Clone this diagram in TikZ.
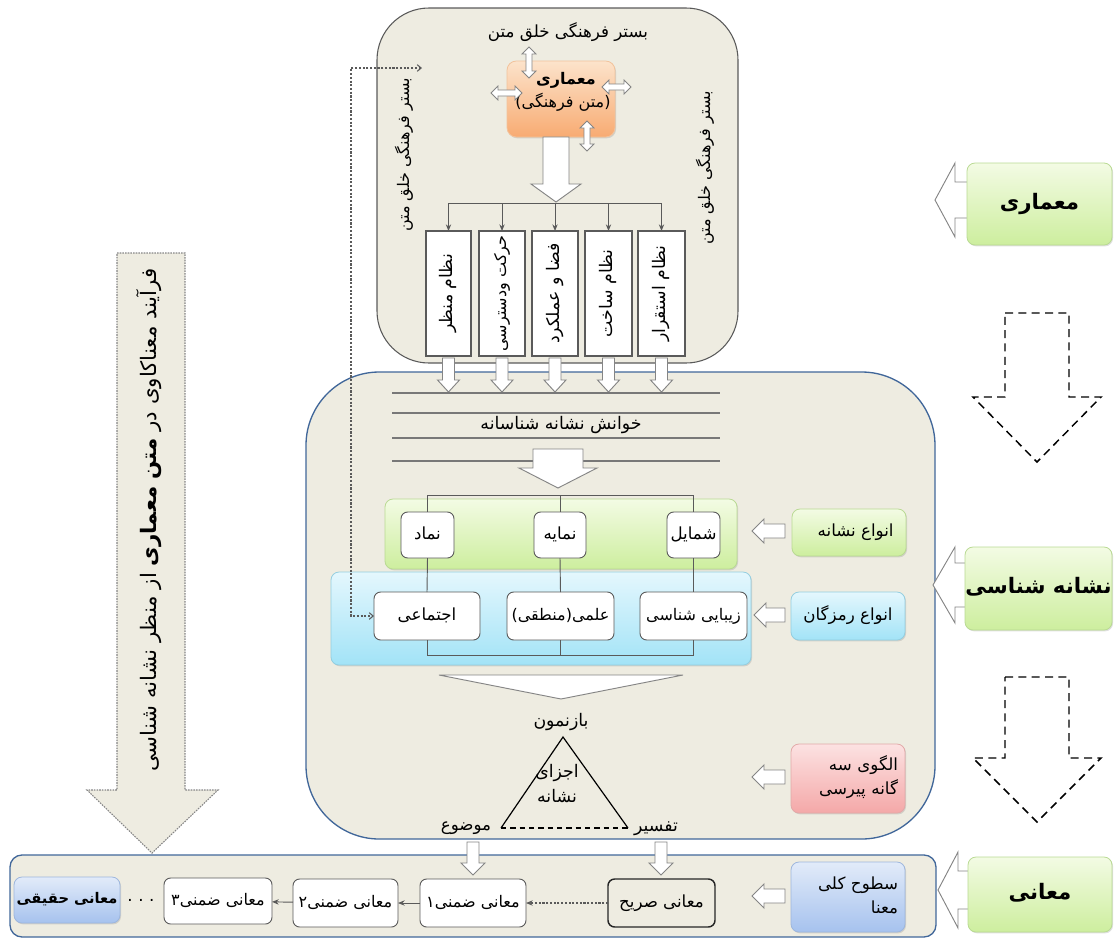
\documentclass[tikz,border=0pt]{standalone}
\usepackage{fontspec}
\newfontfamily\fa[Script=Arabic]{DejaVu Sans}
\newfontfamily\dvs{DejaVu Sans}
\TeXXeTstate=1
\usetikzlibrary{shadows,arrows.meta}
\newcommand\R[1]{\rule[-0.25em]{0pt}{1em}\smash{\beginR#1\endR}}
\newcommand\lp{{\dvs(}}
\newcommand\rp{{\dvs)}}
\newcommand\fsz[1]{\fontsize{#1}{\fpeval{#1*1.45}}\selectfont}
\definecolor{beige}{HTML}{EEECE1}
\definecolor{boxgray}{HTML}{5A5A5A}
\definecolor{bandblue}{HTML}{41679A}
\definecolor{arrgray}{HTML}{858585}
\definecolor{gtop}{HTML}{F3FBE4}
\definecolor{gbot}{HTML}{CDEE9E}
\definecolor{gdraw}{HTML}{B9DA93}
\definecolor{ctop}{HTML}{E4F7FD}
\definecolor{cbot}{HTML}{A2E3F7}
\definecolor{cdraw}{HTML}{93CEE0}
\definecolor{ptop}{HTML}{FCE2E2}
\definecolor{pbot}{HTML}{F4A8A8}
\definecolor{pdraw}{HTML}{E2A9A8}
\definecolor{btop}{HTML}{E2EBF9}
\definecolor{bbot}{HTML}{A6C2EE}
\definecolor{bdraw}{HTML}{9DB6DD}
\definecolor{otop}{HTML}{FCE3CB}
\definecolor{obot}{HTML}{F8AB72}
\definecolor{odraw}{HTML}{F2C39C}
% down block arrow: style, cx, ytop, ytip, shaft hw, head hw, head len
\newcommand\darrow[7]{\draw[#1] ({#2-#5},#3) -- ({#2+#5},#3) -- ({#2+#5},{#4-#7}) -- ({#2+#6},{#4-#7}) -- (#2,#4) -- ({#2-#6},{#4-#7}) -- ({#2-#5},{#4-#7}) -- cycle;}
% left block arrow: style, cy, xtail, xtip, shaft hw, head hw, head len
\newcommand\larrow[7]{\draw[#1] (#3,{#2-#5}) -- ({#4+#7},{#2-#5}) -- ({#4+#7},{#2-#6}) -- (#4,#2) -- ({#4+#7},{#2+#6}) -- ({#4+#7},{#2+#5}) -- (#3,{#2+#5}) -- cycle;}
% vertical double arrow: cx, ytop, ybot
\newcommand\vdbl[3]{\draw[dblarr] (#1,#2) -- ({#1+7},{#2+7}) -- ({#1+3},{#2+7}) -- ({#1+3},{#3-7}) -- ({#1+7},{#3-7}) -- (#1,#3) -- ({#1-7},{#3-7}) -- ({#1-3},{#3-7}) -- ({#1-3},{#2+7}) -- ({#1-7},{#2+7}) -- cycle;}
% horizontal double arrow: cy, xleft, xright
\newcommand\hdbl[3]{\draw[dblarr] (#2,#1) -- ({#2+7},{#1-7}) -- ({#2+7},{#1-3}) -- ({#3-7},{#1-3}) -- ({#3-7},{#1-7}) -- (#3,#1) -- ({#3-7},{#1+7}) -- ({#3-7},{#1+3}) -- ({#2+7},{#1+3}) -- ({#2+7},{#1+7}) -- cycle;}
\begin{document}
\begin{tikzpicture}[x=0.75pt,y=-0.75pt,
  every node/.style={font=\fa\fsz{12.5}, text=black},
  at box/.style n args={4}{at={({(#1+#3)/2},{(#2+#4)/2})}, minimum width={(#3-#1)*0.75pt}, minimum height={(#4-#2)*0.75pt}, inner sep=0pt, outer sep=0pt},
  topbox/.style={draw=boxgray, fill=beige, rounded corners=39pt, line width=0.8pt},
  midbox/.style={draw=bandblue, fill=beige, rounded corners=55pt, line width=1pt},
  botband/.style={draw=bandblue, fill=beige, rounded corners=9pt, line width=1pt},
  wbox/.style={draw=boxgray, fill=white, rounded corners=5pt, line width=0.7pt},
  sbox/.style={draw=black!85, fill=beige, rounded corners=5pt, line width=1.1pt},
  pbox/.style={draw=boxgray, fill=white, line width=0.8pt},
  shad/.style={drop shadow={opacity=0.25, shadow xshift=0.8pt, shadow yshift=-1pt}},
  gbox/.style={draw=gdraw, top color=gtop, bottom color=gbot, rounded corners=6pt, line width=0.6pt, shad},
  cbox/.style={draw=cdraw, top color=ctop, bottom color=cbot, rounded corners=6pt, line width=0.6pt, shad},
  pkbox/.style={draw=pdraw, top color=ptop, bottom color=pbot, rounded corners=6pt, line width=0.6pt, shad},
  blbox/.style={draw=bdraw, top color=btop, bottom color=bbot, rounded corners=6pt, line width=0.6pt, shad},
  obox/.style={draw=odraw, top color=otop, bottom color=obot, rounded corners=7pt, line width=0.6pt, shad},
  blockarr/.style={draw=arrgray, fill=white, line width=0.7pt, line join=miter},
  dblarr/.style={draw=arrgray, fill=white, line width=0.6pt, line join=miter},
  dasharr/.style={draw=black, dash pattern=on 6pt off 4pt, line width=1.1pt, line join=miter},
  bigdot/.style={draw=arrgray, fill=beige, dash pattern=on 1.2pt off 0.8pt, line width=0.8pt, line join=miter},
  conn/.style={draw=boxgray, line width=0.7pt},
  hline/.style={draw=arrgray!90!black, line width=0.9pt},
  tip/.style={-{Stealth[length=5pt,width=4pt]}},
  dotline/.style={draw=boxgray, dash pattern=on 1.6pt off 1.2pt, line width=0.8pt},
  rlab/.style={font=\fa\bfseries\fsz{16}}
]
\useasboundingbox (0,0) rectangle (1115,940);

% ---- left process arrow
\draw[bigdot] (117,253) -- (185,253) -- (185,790) -- (218,790) -- (152,853) -- (87,790) -- (117,790) -- cycle;
\node[rotate=90, font=\fa\fsz{16}] (process) at (151,520) {\R{فرآیند معناکاوی در \textbf{متن معماری} از منظر نشانه شناسی}};

% ---- main containers
\node[midbox, at box={306}{372}{935}{839}] (mid) {};
\node[topbox, at box={377}{8}{738}{363}] (top) {};
\node[botband, at box={10}{855}{936}{937}] (bot) {};

% ---- top box content
\node (ctxT) at (568,33) {\R{بستر فرهنگی خلق متن}};
\node[rotate=90, font=\fa\fsz{12}] (ctxL) at (405,155) {\R{بستر فرهنگی خلق متن}};
\node[rotate=90, font=\fa\fsz{12}] (ctxR) at (706,168) {\R{بستر فرهنگی خلق متن}};

\node[obox, at box={507}{61}{615}{137}] (arch) {};
\node[font=\fa\bfseries\fsz{12}] (archA) at (566,80) {\R{معماری}};
\node[font=\fa\fsz{12}] (archB) at (563,103) {\lp\R{متن فرهنگی}\rp};
\vdbl{529}{47}{78}
\hdbl{93}{491}{522}
\hdbl{87}{602}{631}
\vdbl{587}{121}{151}
\darrow{blockarr}{556}{137}{202}{13}{25}{18}

\node[pbox, at box={426}{231}{471}{356}] (p1) {};
\node[pbox, at box={479}{231}{525}{356}] (p2) {};
\node[pbox, at box={532}{231}{578}{356}] (p3) {};
\node[pbox, at box={585}{231}{632}{356}] (p4) {};
\node[pbox, at box={638}{231}{685}{356}] (p5) {};
\node[rotate=90, font=\fa\fsz{13}] (t1) at (p1.center) {\R{نظام منظر}};
\node[rotate=90, font=\fa\fsz{12}] (t2) at (p2.center) {\R{حرکت ودسترسی}};
\node[rotate=90, font=\fa\fsz{13}] (t3) at (p3.center) {\R{فضا و عملکرد}};
\node[rotate=90, font=\fa\fsz{13}] (t4) at (p4.center) {\R{نظام ساخت}};
\node[rotate=90, font=\fa\fsz{13}] (t5) at (p5.center) {\R{نظام استقرار}};
\coordinate (hl) at (556,203);
\draw[conn] (p1.north |- hl) -- (p5.north |- hl);
\foreach \i in {1,...,5} \draw[conn, tip] (p\i.north |- hl) -- (p\i.north);
\foreach \c in {448.5,502,555,608.5,661.5} {\darrow{blockarr}{\c}{358}{392}{6}{11}{12}}

% ---- reading lines
\foreach \y in {393,413,438,461} \draw[hline] (392,\y) -- (720,\y);
\node[font=\fa\fsz{13}] (read) at (561,425) {\R{خوانش نشانه شناسانه}};
\darrow{blockarr}{558}{449}{488}{25}{39}{20}

% ---- sign bands
\node[gbox, at box={385}{499}{737}{569}] (gband) {};
\node[cbox, at box={331}{572}{751}{665}] (cband) {};
\node[wbox, at box={401}{512}{454}{558}] (n1) {\R{نماد}};
\node[wbox, at box={534}{512}{586}{558}] (n2) {\R{نمایه}};
\node[wbox, at box={667}{512}{720}{558}] (n3) {\R{شمایل}};
\node[wbox, at box={374}{592}{480}{640}] (s1) {\R{اجتماعی}};
\node[wbox, at box={507}{592}{614}{640}, font=\fa\fsz{12}] (s2) {\lp\R{منطقی}\rp\R{علمی}};
\node[wbox, at box={640}{592}{747}{640}, font=\fa\fsz{12}] (s3) {\R{زیبایی شناسی}};
\coordinate (cTop) at (561,495);
\coordinate (cBot) at (561,655);
\draw[conn] (n1.north |- cTop) -- (n3.north |- cTop);
\draw[conn] (s1.south |- cBot) -- (s3.south |- cBot);
\foreach \i in {1,2,3} {
  \draw[conn] (n\i.north |- cTop) -- (n\i.north);
  \draw[conn] (n\i.south) -- (s\i.north);
  \draw[conn] (s\i.south) -- (s\i.south |- cBot);
}

% ---- side labels
\node[gbox, at box={792}{509}{906}{556}] (lab1) {\hspace{10pt}\R{انواع نشانه}};
\larrow{blockarr}{531}{785}{752}{7}{12}{12}
\node[cbox, at box={791}{592}{905}{640}] (lab2) {\R{انواع رمزگان}};
\larrow{blockarr}{615}{785}{754}{7}{12}{12}
\node[pkbox, at box={791}{744}{905}{813}, align=right, text width=75pt] (lab3) {\R{الگوی سه}\\\R{گانه پیرسی}};
\larrow{blockarr}{777}{785}{752}{7}{12}{12}
\node[blbox, at box={791}{862}{905}{932}, align=right, text width=75pt] (lab4) {\R{سطوح کلی}\\\R{معنا}};
\larrow{blockarr}{896}{785}{752}{7}{12}{12}

% ---- representation and triangle
\draw[blockarr] (439,675) -- (683,675) -- (561,699) -- cycle;
\node[font=\fa\fsz{13}] (rep) at (561,722) {\R{بازنمون}};
\coordinate (tA) at (563,737);
\coordinate (tL) at (501,828);
\coordinate (tR) at (628,828);
\draw[line width=0.9pt] (tL) -- (tA) -- (tR);
\draw[line width=0.9pt, dash pattern=on 4pt off 3pt] (tL) -- (tR);
\node[align=center, font=\fa\fsz{13}] (sgn) at (557,786) {\R{اجزای}\\\R{نشانه}};
\node[font=\fa\fsz{12.5}] (obj) at (466,826) {\R{موضوع}};
\node[font=\fa\fsz{13}] (interp) at (656,827) {\R{تفسیر}};

% ---- dotted feedback connector
\coordinate (dTop) at (422,68);
\draw[dotline, {Straight Barb[length=3pt,width=5pt]}-{Straight Barb[length=3pt,width=5pt]}] (dTop) -- (351,68) |- (s1.west);

% ---- arrows to bottom band
\darrow{blockarr}{473}{842}{875}{6}{12}{12}
\darrow{blockarr}{661}{842}{875}{6}{12}{12}

% ---- bottom boxes
\node[sbox, at box={608}{879}{715}{927}] (b0) {\R{معانی صریح}};
\node[wbox, at box={420}{879}{526}{927}, font=\fa\fsz{12}] (b1) {\R{معانی ضمنی۱}};
\node[wbox, at box={293}{879}{398}{927}, font=\fa\fsz{12}] (b2) {\R{معانی ضمنی۲}};
\node[wbox, at box={164}{878}{272}{924}, font=\fa\fsz{12}] (b3) {\R{معانی ضمنی۳}};
\node (dots) at (141,900) {.\,\,.\,\,.};
\node[blbox, at box={14}{877}{120}{923}, font=\fa\bfseries\fsz{11}] (b4) {\R{معانی حقیقی}};
\draw[dotline, tip] (b0) -- (b1);
\draw[conn, tip] (b1) -- (b2);
\draw[conn, tip] (b2) -- (b3);

% ---- right column
\larrow{blockarr}{200}{975}{935}{18}{37}{20}
\node[gbox, at box={967}{163}{1112}{245}, rlab] (r1) {\R{معماری}};
\larrow{blockarr}{585}{975}{933}{22}{38}{22}
\node[gbox, at box={965}{547}{1112}{630}, rlab] (r2) {\R{نشانه شناسی}};
\larrow{blockarr}{890}{978}{938}{19}{38}{20}
\node[gbox, at box={968}{857}{1112}{932}, rlab] (r3) {\R{معانی}};

\darrow{dasharr}{1037}{313}{462}{32}{64}{65}
\darrow{dasharr}{1037}{677}{822}{32}{64}{64}
\end{tikzpicture}
\end{document}
